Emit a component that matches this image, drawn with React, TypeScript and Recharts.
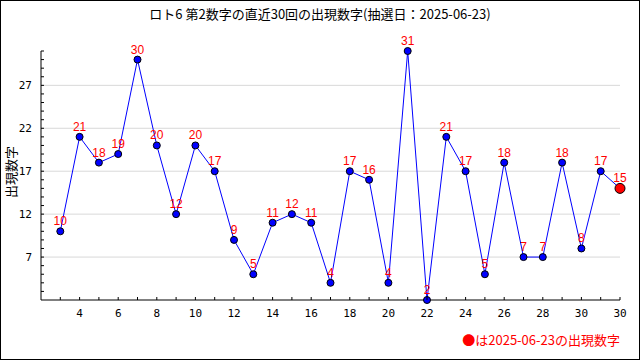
import { LineChart, Line, XAxis, YAxis, ReferenceLine, LabelList } from 'recharts'

const TITLE = 'ロト6 第2数字の直近30回の出現数字(抽選日：2025-06-23)'
const Y_TITLE = '出現数字'
const LEGEND_TEXT = 'は2025-06-23の出現数字'

// values of the last 30 draws, oldest first
const VALUES = [10, 21, 18, 19, 30, 20, 12, 20, 17, 9, 5, 11, 12, 11, 4, 17, 16, 4, 31, 2, 21, 17, 5, 18, 7, 7, 18, 8, 17, 15]

const X_TICKS = [1, 2, 3, 4, 5, 6, 7, 8, 9, 10, 11, 12, 13, 14, 15, 16, 17, 18, 19, 20, 21, 22, 23, 24, 25, 26, 27, 28, 29, 30]
const X_LABEL_AT = [2, 4, 6, 8, 10, 12, 14, 16, 18, 20, 22, 24, 26, 28, 30]
const X_LABELS = ['4', '6', '8', '10', '12', '14', '16', '18', '20', '22', '24', '26', '28', '30', '30']

const Y_TICKS = [3, 4, 5, 6, 7, 8, 9, 10, 11, 12, 13, 14, 15, 16, 17, 18, 19, 20, 21, 22, 23, 24, 25, 26, 27, 28, 29, 30, 31]
const Y_LABELS = [7, 12, 17, 22, 27]

const data = VALUES.map((v, i) => ({ n: i + 1, value: v }))

const tickFont = '"DejaVu Sans Mono", monospace'

const XTick = (props: any) => {
  const { x, y, payload } = props
  const i = X_LABEL_AT.indexOf(payload.value)
  return (
    <g>
      <line x1={x} x2={x} y1={y} y2={y - 3} stroke="#000" />
      {i >= 0 && (
        <text x={x} y={y + 17} textAnchor="middle" fontSize={11} fontFamily={tickFont} fill="#000">
          {X_LABELS[i]}
        </text>
      )}
    </g>
  )
}

const YTick = (props: any) => {
  const { x, y, payload } = props
  const show = Y_LABELS.includes(payload.value)
  return (
    <g>
      <line x1={x} x2={x + 3} y1={y} y2={y} stroke="#000" />
      {show && (
        <text x={x - 9} y={y + 4} textAnchor="end" fontSize={11} fontFamily={tickFont} fill="#000">
          {payload.value}
        </text>
      )}
    </g>
  )
}

const Dot = (props: any) => {
  const { cx, cy, index } = props
  const last = index === VALUES.length - 1
  return (
    <circle
      key={`dot-${index}`}
      cx={cx}
      cy={cy}
      r={last ? 5 : 3.5}
      fill={last ? '#ff0000' : '#0000ff'}
      stroke="#000"
      strokeWidth={1}
    />
  )
}

const YTitle = () => (
  <text
    x={10}
    y={172}
    transform="rotate(-90 10 172)"
    textAnchor="middle"
    dominantBaseline="central"
    fontSize={13}
    fontFamily='"Noto Sans CJK JP", sans-serif'
    fill="#000"
  >
    {Y_TITLE}
  </text>
)

export default function App() {
  return (
    <div style={{ position: 'relative', width: 640, height: 360, background: '#fff' }}>
      <style>{'body{margin:0}'}</style>
      <LineChart width={640} height={360} data={data} margin={{ top: 51, right: 20, bottom: 30, left: 0 }}>
        {Y_LABELS.map((v) => (
          <ReferenceLine key={v} y={v} stroke="#d9d9d9" />
        ))}
        <XAxis
          dataKey="n"
          type="number"
          domain={[0, 30]}
          ticks={X_TICKS}
          interval={0}
          height={30}
          tickSize={0}
          tickMargin={0}
          tickLine={false}
          axisLine={{ stroke: '#000' }}
          tick={<XTick />}
        />
        <YAxis
          type="number"
          domain={[2, 31]}
          ticks={Y_TICKS}
          interval={0}
          width={41}
          tickSize={0}
          tickMargin={0}
          tickLine={false}
          axisLine={{ stroke: '#000' }}
          tick={<YTick />}
          label={<YTitle />}
        />
        <Line
          dataKey="value"
          stroke="#0000ff"
          strokeWidth={1}
          dot={<Dot />}
          activeDot={false}
          isAnimationActive={false}
        >
          <LabelList
            dataKey="value"
            position="top"
            offset={6}
            fill="#ff0000"
            fontSize={12}
            fontFamily='"Liberation Sans Narrow", "Liberation Sans", sans-serif'
          />
        </Line>
      </LineChart>
      <div
        style={{
          position: 'absolute',
          top: 4,
          left: 0,
          width: 640,
          textAlign: 'center',
          fontSize: 13,
          fontFamily: '"Noto Sans CJK JP", sans-serif',
          color: '#000',
        }}
      >
        {TITLE}
      </div>
      <div
        style={{
          position: 'absolute',
          top: 330,
          right: 20,
          fontSize: 13,
          fontFamily: '"Noto Sans CJK JP", sans-serif',
          color: '#ff0000',
          lineHeight: '20px',
        }}
      >
        ●{LEGEND_TEXT}
      </div>
      <div
        style={{
          position: 'absolute',
          inset: 0,
          border: '1px solid #000',
          pointerEvents: 'none',
        }}
      />
    </div>
  )
}
